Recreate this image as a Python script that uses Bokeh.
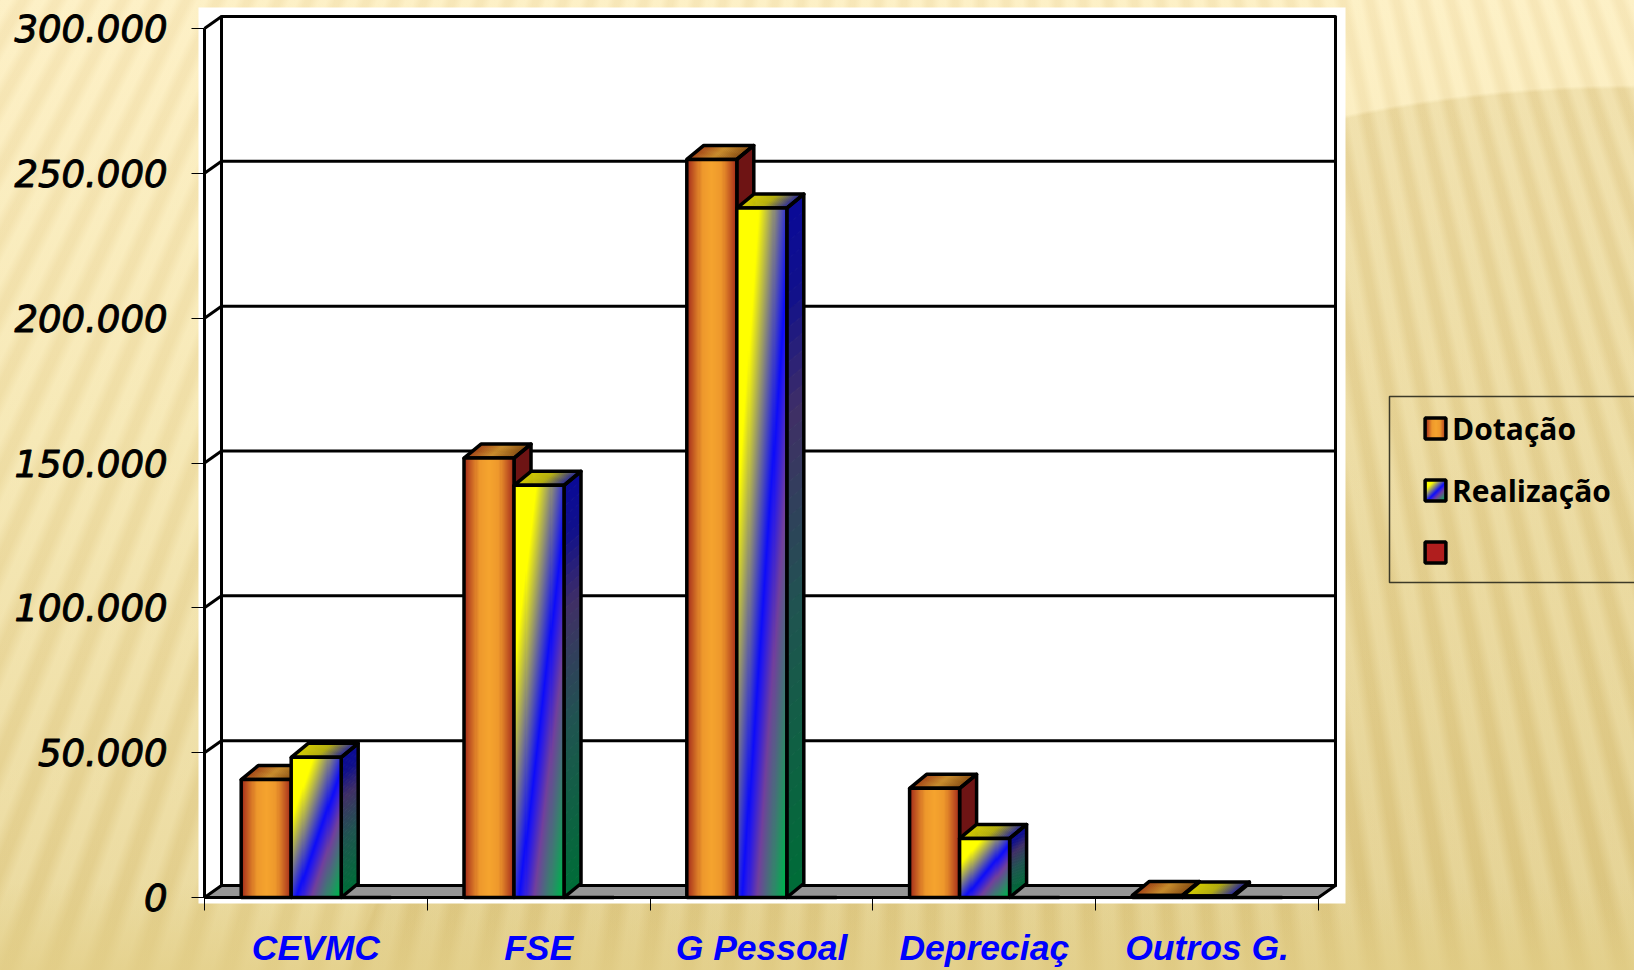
import numpy as np
from bokeh.plotting import figure
from bokeh.models import (Range1d, LinearAxis, FixedTicker, Legend, LegendItem,
                          ColumnDataSource)
from bokeh.core.properties import value
from bokeh.embed import file_html
from bokeh.resources import INLINE

# ---- data ----
categories = ["CEVMC", "FSE", "G Pessoal", "Depreciaç", "Outros G."]
dotacao = [40700, 151700, 254800, 37700, 700]
realizacao = [48400, 142300, 238000, 20400, 500]
terceira = [0, 0, 0, 0, 0]  # third series: only its legend key is visible
series_names = ["Dotação", "Realização", " "]
y_ticks = [0, 50000, 100000, 150000, 200000, 250000, 300000]
y_labels = ["0", "50.000", "100.000", "150.000", "200.000", "250.000", "300.000"]

# ---- geometry (pixels of the page) ----
W, H = 1634, 970
X0, Y0 = 204, 897        # front corner of the chart
PX = 222.8               # pixels per category
PY = 869 / 300000        # pixels per value unit
DX, DY = 17 / PX, 12 / PY  # 3D depth of the walls
BAR_DY = 14 / PY         # 3D depth of the bars
BW = 50 / PX             # bar width
GAP = 36.7 / PX          # from category start to first bar


def fx(px):
    return (px - X0) / PX


def fy(py):
    return (Y0 - py) / PY


p = figure(width=W, height=H, output_backend="svg", toolbar_location=None,
           x_range=Range1d(fx(0), fx(W)), y_range=Range1d(fy(H), fy(0)),
           x_axis_location=None, y_axis_location=None,
           min_border=0, outline_line_color=None,
           background_fill_alpha=0, border_fill_alpha=0)
p.grid.visible = False

BLACK = "#000000"
cats_n = len(categories)

# white plate
p.quad(left=[fx(198)], right=[fx(1345)], bottom=[fy(903)], top=[fy(7)],
       fill_color="#ffffff", line_color=None)
# floor
p.patch([0, cats_n, cats_n + DX, DX], [0, 0, DY, DY], fill_color="#969696",
        line_color=BLACK, line_width=2)
# back wall grid and left wall diagonals
p.segment(x0=[DX] * len(y_ticks), x1=[cats_n + DX] * len(y_ticks),
          y0=[v + DY for v in y_ticks], y1=[v + DY for v in y_ticks],
          line_color=BLACK, line_width=3)
p.segment(x0=[0] * len(y_ticks), x1=[DX] * len(y_ticks),
          y0=y_ticks, y1=[v + DY for v in y_ticks], line_color=BLACK, line_width=3)
p.segment(x0=[DX, cats_n + DX, cats_n], x1=[DX, cats_n + DX, cats_n + DX],
          y0=[DY, DY, 0], y1=[y_ticks[-1] + DY, y_ticks[-1] + DY, DY],
          line_color=BLACK, line_width=3, line_cap="round")


def lerp_stops(t, stops):
    xs = [s[0] for s in stops]
    cols = np.array([[int(s[1][i:i + 2], 16) for i in (1, 3, 5)] for s in stops], float)
    return np.stack([np.interp(t, xs, cols[:, k]) for k in range(3)], axis=-1)


def hexes(rgb):
    return ["#%02x%02x%02x" % tuple(int(round(c)) for c in row) for row in rgb]


def to_rgba(rgb):
    a = np.full(rgb.shape[:2] + (4,), 255, dtype=np.uint8)
    a[..., :3] = np.clip(np.round(rgb), 0, 255).astype(np.uint8)
    return a.view(dtype=np.uint32).reshape(rgb.shape[:2])


ORANGE = [(0, "#a52c1b"), (.3, "#ee982c"), (.5, "#f5a42e"), (.7, "#ee982c"), (1, "#a52c1b")]
RAINBOW = [(0, "#ffff00"), (.22, "#ffff00"), (.55, "#0c0cfa"), (.585, "#2418ec"),
           (.7, "#72409c"), (.85, "#38806e"), (.97, "#00b050"), (1, "#00b050")]
TOP_O = [(0, "#a24416"), (.5, "#c88c2c"), (1, "#8a5014")]
TOP_R = [(0, "#d4cc00"), (.5, "#b4ae10"), (1, "#28289a")]
SIDE_R = [(0, "#0a0a96"), (.12, "#10108c"), (.3, "#402f66"), (.6, "#1f5450"), (1, "#006c38")]


def face_orange(w, h):
    u = np.linspace(0, 1, w)[None, :].repeat(h, axis=0)
    return lerp_stops(u, ORANGE)


def face_rainbow(w, h):
    u = np.linspace(0, 1, w)[None, :].repeat(h, axis=0)
    v = np.linspace(1, 0, h)[:, None].repeat(w, axis=1)
    return lerp_stops((u + v) / 2, RAINBOW)


def draw_series(vals, offset, face, top_stops, side_color=None, side_stops=None):
    lefts = [i + GAP + offset * BW for i in range(len(vals))]
    src = ColumnDataSource(dict(x=[l + BW / 2 for l in lefts], top=vals))
    px, py, pc = [], [], []
    ox, oy = [], []
    tx, ty, tc = [], [], []
    otx, oty = [], []
    for l, v in zip(lefts, vals):
        r = l + BW
        ox.append([r, r + DX, r + DX, r])
        oy.append([0, BAR_DY, v + BAR_DY, v])
        otx.append([l, r, r + DX, l + DX])
        oty.append([v, v, v + BAR_DY, v + BAR_DY])
        if side_stops is not None:
            n = 40
            cols = hexes(lerp_stops(np.linspace(0, 1, n), side_stops))
            for k in range(n):
                a, b = v * (1 - k / n), v * (1 - (k + 1) / n)
                px.append([r, r + DX, r + DX, r])
                py.append([b, b + BAR_DY, a + BAR_DY, a])
                pc.append(cols[k])
        else:
            px.append(ox[-1])
            py.append(oy[-1])
            pc.append(side_color)
        n = 24
        cols = hexes(lerp_stops(np.linspace(0, 1, n), top_stops))
        for k in range(n):
            a, b = l + BW * k / n, l + BW * (k + 1) / n
            tx.append([a, b, b + DX, a + DX])
            ty.append([v, v, v + BAR_DY, v + BAR_DY])
            tc.append(cols[k])
    p.patches(px, py, fill_color=pc, line_color=pc, line_width=1)
    p.patches(tx, ty, fill_color=tc, line_color=tc, line_width=1)
    p.patches(ox, oy, fill_alpha=0, line_color=BLACK, line_width=3.5, line_join="round")
    p.patches(otx, oty, fill_alpha=0, line_color=BLACK, line_width=3.5, line_join="round")
    # front face: gradient image inside an outlined bar
    imgs = [to_rgba(face(48, max(2, int(v * PY)))) for v in vals]
    p.image_rgba(image=imgs, x=lefts, y=[0] * len(vals), dw=[BW] * len(vals), dh=vals)
    return p.vbar(x="x", top="top", bottom=0, width=BW, source=src,
                  fill_alpha=0, line_color=BLACK, line_width=3.5)


r1 = draw_series(dotacao, 0, face_orange, TOP_O, side_color="#6e1414")
r2 = draw_series(realizacao, 1, face_rainbow, TOP_R, side_stops=SIDE_R)
r3 = p.vbar(x=[i + GAP + 2.5 * BW for i in range(cats_n)], top=terceira, bottom=0, width=BW,
            fill_color="#b01e1e", line_color=BLACK, line_width=3.5)

# ---- axes ----
yaxis = LinearAxis(fixed_location=0, bounds=(0, 300000),
                   ticker=FixedTicker(ticks=y_ticks),
                   major_label_overrides=dict(zip(y_ticks, y_labels)),
                   axis_line_color=BLACK, axis_line_width=3,
                   major_tick_line_color=BLACK, major_tick_line_width=1,
                   major_tick_out=13, major_tick_in=0,
                   minor_tick_line_color=None,
                   major_label_standoff=24,
                   major_label_text_font="DejaVu Sans",
                   major_label_text_font_style="italic",
                   major_label_text_font_size="37px",
                   major_label_text_color=BLACK,
                   major_label_text_outline_color=BLACK)
p.add_layout(yaxis, "left")

centers = [i + .5 for i in range(cats_n)]
xaxis = LinearAxis(fixed_location=0, bounds=(0, cats_n),
                   ticker=FixedTicker(ticks=centers, minor_ticks=list(range(cats_n + 1))),
                   major_label_overrides=dict(zip(centers, categories)),
                   axis_line_color=BLACK, axis_line_width=3,
                   major_tick_line_color=None, major_tick_out=13, major_tick_in=0,
                   minor_tick_line_color=BLACK, minor_tick_line_width=1,
                   minor_tick_out=13, minor_tick_in=0,
                   major_label_standoff=17,
                   major_label_text_font="Liberation Sans",
                   major_label_text_font_style="bold italic",
                   major_label_text_font_size="35.5px",
                   major_label_text_color="#0000ff")
p.add_layout(xaxis, "below")

# ---- legend ----
sw_tops = [417, 479]
sw_faces = [face_orange(21, 21), face_rainbow(21, 21)]
p.image_rgba(image=[to_rgba(f) for f in sw_faces], x=[fx(1425)] * 2,
             y=[fy(t + 21) for t in sw_tops], dw=[21 / PX] * 2, dh=[21 / PY] * 2)
p.quad(left=[fx(1389)], right=[fx(1650)], bottom=[fy(582)], top=[fy(396)],
       fill_alpha=0, line_color="#3c3a28", line_width=1.5)
legend = Legend(items=[LegendItem(label=value(n), renderers=[r])
                       for n, r in zip(series_names, [r1, r2, r3])],
                location=(1422, H - 573), orientation="vertical",
                padding=0, margin=0, spacing=20, glyph_width=26, glyph_height=26,
                label_standoff=4, label_height=42,
                label_text_font="Open Sans", label_text_font_style="bold",
                label_text_font_size="30px", label_text_color=BLACK,
                background_fill_alpha=0, border_line_color=None)
p.add_layout(legend)

# ---- page background (the slide's striped beige) ----
css = """<style>
html,body{margin:0;padding:0;overflow:hidden;width:1634px;height:970px;
background-color:#f2e2ac;
background-image:
 linear-gradient(to bottom, rgba(227,207,136,0) 91%, rgba(227,207,136,.7) 100%),
 repeating-conic-gradient(from 150deg at 1000px -1700px,
   rgba(255,250,215,.22) 0deg, rgba(255,250,215,.22) .22deg,
   rgba(190,160,80,.09) .46deg, rgba(190,160,80,.09) .62deg,
   rgba(255,250,215,.22) .86deg),
 radial-gradient(1361px 1315px at 1634px 1400px,
   rgba(205,178,100,.30) 99.7%, rgba(205,178,100,0) 100%),
 linear-gradient(to bottom, #fdeec2 0%, #f4e4ae 45%, #e4d08e 100%);
}
</style>"""
html = file_html(p, INLINE, title="Dotação e Realização")
html = html.replace("</head>", css + "</head>", 1)
open("out.html", "w").write(html)
